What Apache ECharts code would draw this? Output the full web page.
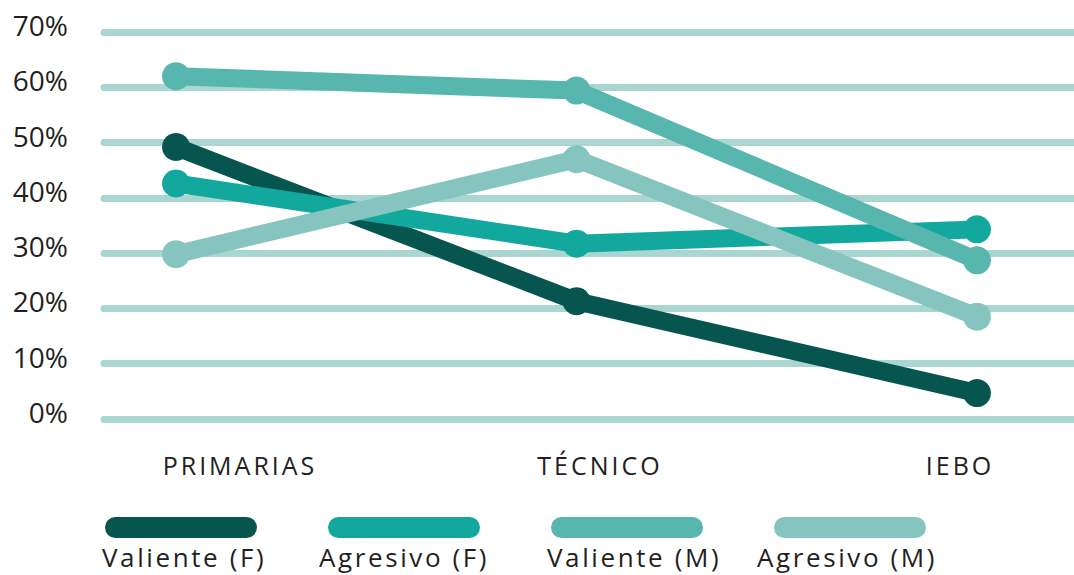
<!DOCTYPE html>
<html>
<head>
<meta charset="utf-8">
<script src="https://cdn.jsdelivr.net/npm/echarts@6/dist/echarts.min.js"></script>
<style>
html,body{margin:0;padding:0;background:#fff}
#c{width:1074px;height:575px}
#c text[style*="25px"]{letter-spacing:3px}
#c text[style*="26px"]{letter-spacing:2.6px}
</style>
</head>
<body>
<div id="c"></div>
<script>
const categories = ['PRIMARIAS', 'TÉCNICO', 'IEBO'];
const seriesNames = ['Valiente (F)', 'Agresivo (F)', 'Valiente (M)', 'Agresivo (M)'];
const valienteF = [49.2, 21.3, 4.7];
const agresivoF = [42.6, 31.7, 34.3];
const valienteM = [62.0, 59.4, 28.7];
const agresivoM = [29.8, 47.0, 18.5];
const yTicks = [0, 10, 20, 30, 40, 50, 60, 70];

const colors = ['#06564f', '#13a89e', '#57b6ad', '#86c5bf'];
const values = [valienteF, agresivoF, valienteM, agresivoM];
const textLegendLeft = [102, 319, 547, 757];
const font = '"Open Sans", sans-serif';
const textColor = '#231f20';

const chart = echarts.init(document.getElementById('c'), null, {renderer: 'svg'});
const gTop = 32, gBottom = 156;
const option = {
  animation: false,
  grid: [
    {left: 104, right: 0, top: gTop, bottom: gBottom},
    {left: 176, right: 97, top: gTop, bottom: gBottom},
    {left: 240, right: 114, top: gTop, bottom: gBottom}
  ],
  xAxis: [
    {gridIndex: 0, type: 'category', data: categories, show: false},
    {gridIndex: 1, type: 'category', data: categories, boundaryGap: false, show: false},
    {gridIndex: 2, type: 'category', data: categories, boundaryGap: false,
      axisLine: {show: false}, axisTick: {show: false},
      axisLabel: {margin: 33, fontSize: 25, color: textColor, fontFamily: font}}
  ],
  yAxis: [
    {gridIndex: 0, type: 'value', min: yTicks[0], max: yTicks[yTicks.length - 1], interval: 10,
      axisLine: {show: false}, axisTick: {show: false},
      axisLabel: {margin: 36, fontSize: 28, color: textColor, fontFamily: font, formatter: '{value}%',
        verticalAlign: 'bottom', lineHeight: 14},
      splitLine: {show: true, lineStyle: {color: '#aad6d1', width: 7, cap: 'round'}}},
    {gridIndex: 1, type: 'value', min: yTicks[0], max: yTicks[yTicks.length - 1], show: false, splitLine: {show: false}},
    {gridIndex: 2, type: 'value', min: yTicks[0], max: yTicks[yTicks.length - 1], show: false, splitLine: {show: false}}
  ],
  legend: [
    {data: seriesNames, left: 105, top: 517, itemWidth: 152, itemHeight: 21, itemGap: 71,
      icon: 'path://M10.5,0 H141.5 A10.5,10.5 0 0 1 141.5,21 H10.5 A10.5,10.5 0 0 1 10.5,0 Z',
      formatter: function () { return ''; }, selectedMode: false, padding: 0}
  ].concat(seriesNames.map(function (n, i) {
    return {data: [n], left: textLegendLeft[i] - 5, top: 544, icon: 'none', itemWidth: 0, itemHeight: 0,
      selectedMode: false, padding: 0,
      textStyle: {fontSize: 26, color: textColor, fontFamily: font}};
  })),
  series: seriesNames.map(function (n, i) {
    return {
      name: n, type: 'line', xAxisIndex: 1, yAxisIndex: 1, data: values[i],
      symbol: 'circle', symbolSize: 28,
      lineStyle: {width: 18, color: colors[i]},
      itemStyle: {color: colors[i]}
    };
  })
};
chart.setOption(option);
</script>
</body>
</html>
